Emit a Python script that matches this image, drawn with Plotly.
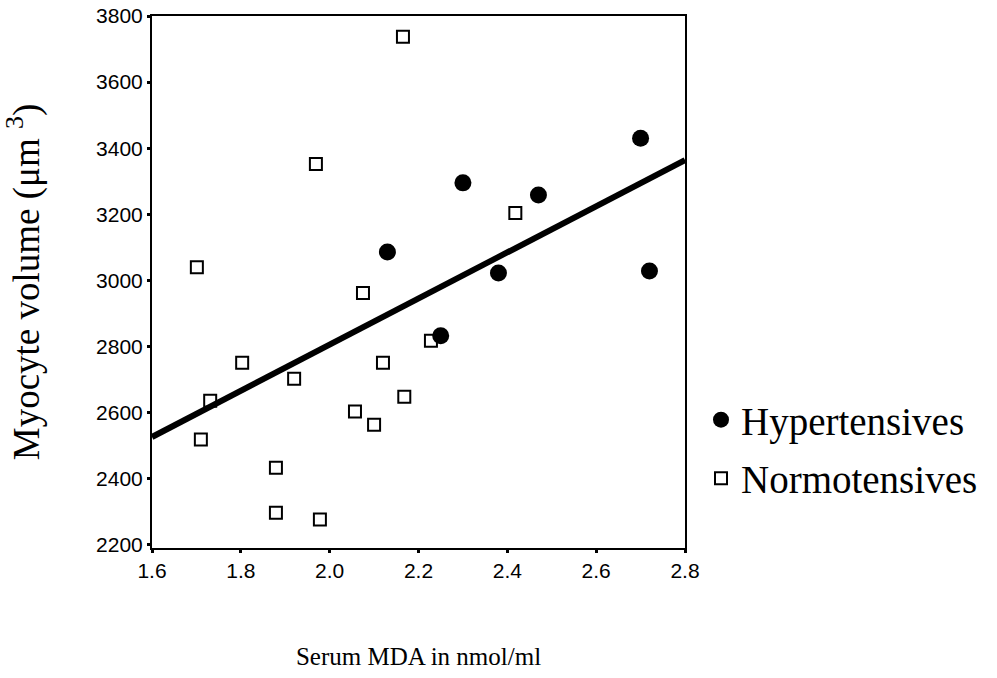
import plotly.graph_objects as go

# Data
hyper_x = [2.13, 2.30, 2.25, 2.38, 2.47, 2.70, 2.72]
hyper_y = [3086, 3295, 2832, 3022, 3258, 3430, 3028]

normo_x = [2.165, 1.969, 1.701, 2.075, 2.418, 2.228, 1.803, 2.120, 1.920,
           1.731, 2.168, 2.057, 2.100, 1.710, 1.879, 1.879, 1.978]
normo_y = [3737, 3352, 3040, 2962, 3204, 2817, 2751, 2751, 2702,
           2636, 2648, 2603, 2563, 2518, 2433, 2297, 2276]

fit_x = [1.6, 2.8]
fit_y = [2526, 3364]

x_ticks = [1.6, 1.8, 2.0, 2.2, 2.4, 2.6, 2.8]
x_tick_text = ["1.6", "1.8", "2.0", "2.2", "2.4", "2.6", "2.8"]
y_ticks = [2200, 2400, 2600, 2800, 3000, 3200, 3400, 3600, 3800]

sans = "Arial, Liberation Sans, sans-serif"
serif = "Times New Roman, Liberation Serif, serif"

fig = go.Figure()
fig.add_trace(go.Scatter(
    x=fit_x, y=fit_y, mode="lines",
    line=dict(color="black", width=6), showlegend=False, hoverinfo="skip"))
fig.add_trace(go.Scatter(
    x=hyper_x, y=hyper_y, mode="markers", name="Hypertensives",
    legend="legend",
    marker=dict(symbol="circle", size=17, color="black",
                line=dict(width=0))))
fig.add_trace(go.Scatter(
    x=normo_x, y=normo_y, mode="markers", name="Normotensives",
    legend="legend2",
    marker=dict(symbol="square-open", size=12, color="black",
                line=dict(width=2, color="black"))))

legend_common = dict(xanchor="left", yanchor="top",
                     font=dict(family=serif, size=39, color="black"),
                     bgcolor="rgba(0,0,0,0)", itemsizing="trace")

fig.update_layout(
    width=997, height=678,
    margin=dict(l=152, r=312, t=16, b=130, autoexpand=False),
    paper_bgcolor="white", plot_bgcolor="white",
    font=dict(family=sans, color="black", size=20),
    legend=dict(x=1.03, y=0.301, **legend_common),
    legend2=dict(x=1.03, y=0.191, **legend_common),
)
fig.update_xaxes(
    range=[1.6, 2.8], tickvals=x_ticks, ticktext=x_tick_text,
    showgrid=False, zeroline=False,
    showline=True, linecolor="black", linewidth=2, mirror=True,
    ticks="outside", ticklen=3, tickwidth=3, tickcolor="black",
    tickfont=dict(family=sans, size=21),
    title=dict(text="Serum MDA in nmol/ml",
               font=dict(family=serif, size=25), standoff=66),
)
fig.update_yaxes(
    range=[2190, 3800], tickvals=y_ticks,
    showgrid=False, zeroline=False,
    showline=True, linecolor="black", linewidth=2, mirror=True,
    ticks="outside", ticklen=3, tickwidth=3, tickcolor="black",
    tickfont=dict(family=sans, size=21),
    title=dict(text="Myocyte volume (μm <sup>3</sup>)",
               font=dict(family=serif, size=37), standoff=61),
)

fig.write_html("out.html")
